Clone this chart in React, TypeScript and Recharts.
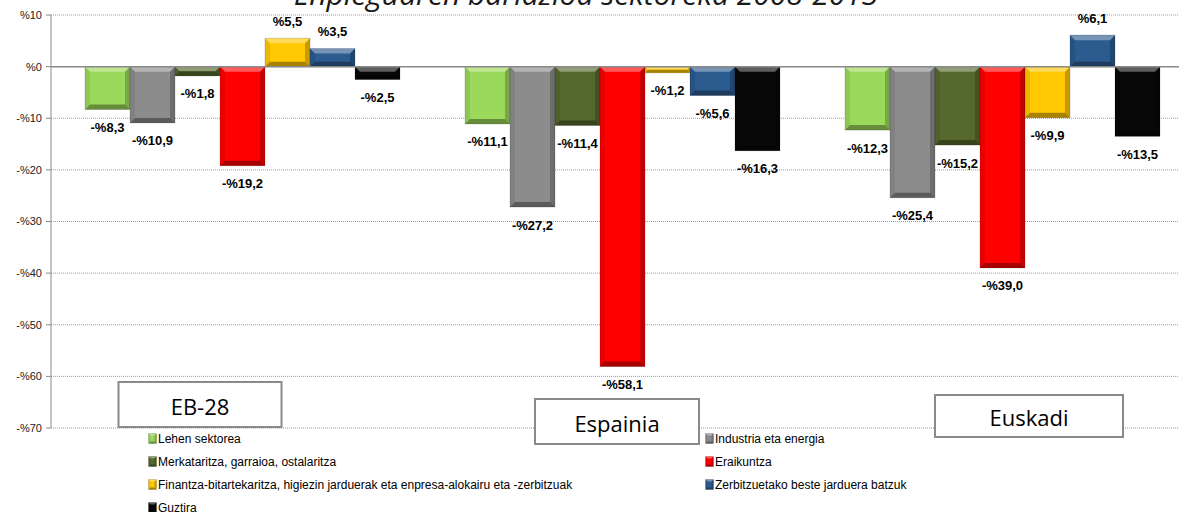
import React from "react";
import {
  BarChart,
  Bar,
  XAxis,
  YAxis,
  CartesianGrid,
  ReferenceLine,
  LabelList,
} from "recharts";

const regions = ["EB-28", "Espainia", "Euskadi"];

const seriesNames = [
  "Lehen sektorea",
  "Industria eta energia",
  "Merkataritza, garraioa, ostalaritza",
  "Eraikuntza",
  "Finantza-bitartekaritza, higiezin jarduerak eta enpresa-alokairu eta -zerbitzuak",
  "Zerbitzuetako beste jarduera batzuk",
  "Guztira",
];

const lehen = [-8.3, -11.1, -12.3];
const industria = [-10.9, -27.2, -25.4];
const merkataritza = [-1.8, -11.4, -15.2];
const eraikuntza = [-19.2, -58.1, -39.0];
const finantza = [5.5, -1.2, -9.9];
const zerbitzuak = [3.5, -5.6, 6.1];
const guztira = [-2.5, -16.3, -13.5];

const yTicks = [10, 0, -10, -20, -30, -40, -50, -60, -70];

const seriesValues = [lehen, industria, merkataritza, eraikuntza, finantza, zerbitzuak, guztira];
const colors = ["#9BD95A", "#8C8C8C", "#56692C", "#FF0000", "#FFC800", "#2B5B8F", "#080808"];

// region label boxes (offset from band centre, top relative to plot bottom)
const boxes = [
  { dx: -41, top: -46, w: 163, h: 45 },
  { dx: -4, top: -29, w: 164, h: 45 },
  { dx: 28, top: -33, w: 188, h: 42 },
];

const data = regions.map((r, i) => {
  const row: Record<string, string | number> = { region: r };
  seriesNames.forEach((s, k) => {
    row["s" + k] = seriesValues[k][i];
  });
  return row;
});

const pct = (v: number) => (v < 0 ? "-%" : "%") + Math.abs(v).toFixed(1).replace(".", ",");
const tickPct = (v: number) => (v < 0 ? "-%" : "%") + Math.abs(v);

const BevelBar = (props: any) => {
  let { x, y, width: w, height: h, fill } = props;
  if (h < 0) {
    y = y + h;
    h = -h;
  }
  if (!w || !h) return null;
  const b = Math.max(1, Math.min(5, w / 4, h / 2));
  return (
    <g>
      <rect x={x} y={y} width={w} height={h} fill={fill} />
      <polygon
        points={`${x},${y} ${x + w},${y} ${x + w - b},${y + b} ${x + b},${y + b}`}
        fill="#ffffff"
        fillOpacity={0.35}
      />
      <polygon
        points={`${x},${y} ${x + b},${y + b} ${x + b},${y + h - b} ${x},${y + h}`}
        fill="#000000"
        fillOpacity={0.08}
      />
      <polygon
        points={`${x + w},${y} ${x + w},${y + h} ${x + w - b},${y + h - b} ${x + w - b},${y + b}`}
        fill="#000000"
        fillOpacity={0.22}
      />
      <polygon
        points={`${x},${y + h} ${x + w},${y + h} ${x + w - b},${y + h - b} ${x + b},${y + h - b}`}
        fill="#000000"
        fillOpacity={0.35}
      />
      <rect x={x} y={y} width={w} height={h} fill="none" stroke="#000" strokeOpacity={0.15} />
    </g>
  );
};

const ValueLabel = (props: any) => {
  const { x, y, width, height, value } = props;
  const v = Number(value);
  const top = Math.min(y, y + height);
  const bottom = Math.max(y, y + height);
  const cy = v < 0 ? bottom + 18 : top - 17;
  return (
    <text
      x={x + width / 2}
      y={cy}
      textAnchor="middle"
      dominantBaseline="central"
      fontSize={13}
      fontWeight="bold"
      fill="#000"
      fontFamily="'Liberation Sans', Arial, sans-serif"
    >
      {pct(v)}
    </text>
  );
};

const RegionBox = (props: any) => {
  const { x, y, index, payload } = props;
  const bx = boxes[index];
  const left = x + bx.dx - bx.w / 2;
  const top = y + bx.top;
  return (
    <g>
      <rect x={left} y={top} width={bx.w} height={bx.h} fill="#fff" stroke="#8a8a8a" strokeWidth={2} />
      <text
        x={left + bx.w / 2}
        y={top + bx.h / 2 + 1}
        textAnchor="middle"
        dominantBaseline="central"
        fontSize={22}
        fill="#000"
        fontFamily="'Open Sans', 'DejaVu Sans', sans-serif"
      >
        {payload.value}
      </text>
    </g>
  );
};

const LegendIcon = ({ color }: { color: string }) => (
  <svg width={9} height={11} style={{ marginRight: 1, flex: "none" }}>
    <BevelBar x={0.5} y={0.5} width={8} height={10} fill={color} />
  </svg>
);

const legendRows = [
  [0, 1],
  [2, 3],
  [4, 5],
  [6],
];

const LegendBox = () => (
  <div
    style={{
      position: "absolute",
      left: 148,
      top: 427,
      fontFamily: "'Liberation Sans', Arial, sans-serif",
      fontSize: 12,
      color: "#000",
    }}
  >
    {legendRows.map((r, ri) => (
      <div key={ri} style={{ display: "flex", height: 23, alignItems: "center" }}>
        {r.map((k) => (
          <div key={k} style={{ display: "flex", alignItems: "center", width: 557, whiteSpace: "nowrap" }}>
            <LegendIcon color={colors[k]} />
            <span>{seriesNames[k]}</span>
          </div>
        ))}
      </div>
    ))}
  </div>
);

export default function App() {
  return (
    <div
      style={{
        position: "absolute",
        left: 0,
        top: 0,
        width: 1179,
        height: 512,
        overflow: "hidden",
        background: "#fff",
        fontFamily: "'Liberation Sans', Arial, sans-serif",
      }}
    >
      <svg width={1179} height={20} style={{ position: "absolute", left: 0, top: 0 }}>
        <text
          x={586}
          y={5}
          textAnchor="middle"
          fontSize={30}
          fontStyle="italic"
          fill="#1a1a1a"
          fontFamily="'Open Sans', 'Liberation Sans', sans-serif"
        >
          Enpleguaren bariazioa sektoreka 2008-2013
        </text>
      </svg>
      <BarChart
        width={1191}
        height={512}
        data={data}
        margin={{ top: 15, right: 0, bottom: 64, left: 0 }}
        barCategoryGap={34}
        barGap={0}
      >
        <CartesianGrid vertical={false} stroke="#9a9a9a" strokeDasharray="1 1" />
        <YAxis
          width={51}
          domain={[-70, 10]}
          ticks={yTicks}
          interval={0}
          tickFormatter={tickPct}
          stroke="#8a8a8a"
          tickSize={5}
          tickMargin={4}
          tick={{ fontSize: 11, fill: "#222" }}
        />
        <XAxis
          dataKey="region"
          height={20}
          axisLine={false}
          tickLine={false}
          tickSize={0}
          tickMargin={0}
          tick={<RegionBox />}
          interval={0}
        />
        <ReferenceLine y={0} stroke="#8a8a8a" strokeWidth={1.5} />
        {seriesNames.map((s, k) => (
          <Bar
            key={s}
            dataKey={"s" + k}
            name={s}
            fill={colors[k]}
            shape={<BevelBar />}
            isAnimationActive={false}
          >
            <LabelList dataKey={"s" + k} content={<ValueLabel />} />
          </Bar>
        ))}
      </BarChart>
      <LegendBox />
    </div>
  );
}
